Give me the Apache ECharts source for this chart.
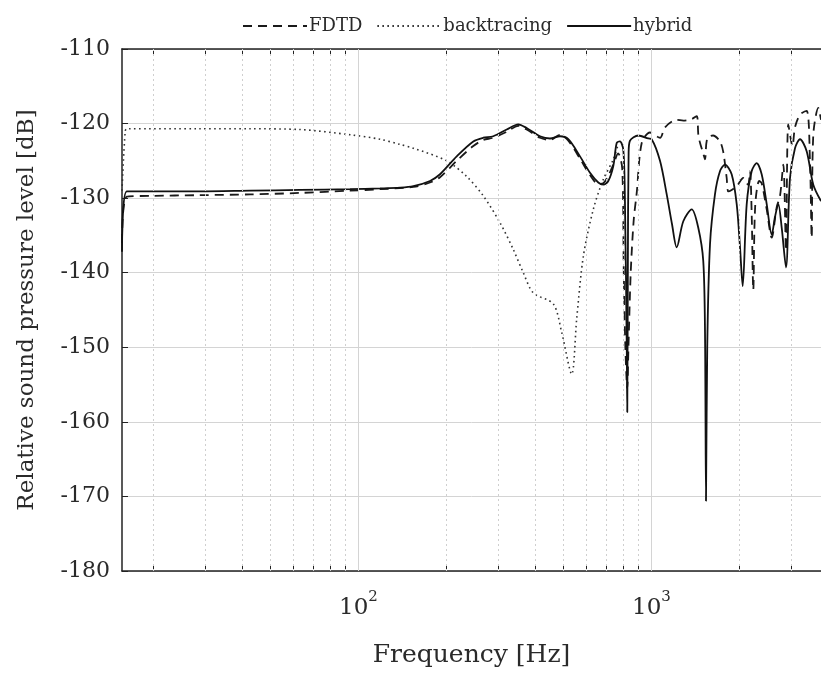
<!DOCTYPE html>
<html>
<head>
<meta charset="utf-8">
<script src="https://cdn.jsdelivr.net/npm/echarts@6/dist/echarts.min.js"></script>
<style>html,body{margin:0;padding:0;background:#fff}#c{width:821px;height:673px}</style>
</head>
<body>
<div id="c"></div>
<script>
// ---- data (frequency in Hz, level in dB) ----
const hybridFreq = [15.6, 16.2, 19.4, 28.8, 42.7, 63.2, 93.6, 118.5, 138.7, 154, 175.5, 189.9, 216.5, 246.7, 266.9, 288.6, 320.7, 351.3, 375.2, 416.7, 450.7, 487.6, 520.5, 570.6, 617.2, 658.7, 685.1, 712.5, 741.3, 761.3, 781, 801.8, 812, 824, 827.3, 831, 836, 845.3, 902.3, 975.9, 1002, 1070, 1128, 1176, 1220, 1285, 1373, 1446, 1503, 1524, 1536, 1551, 1585, 1648, 1714, 1783, 1879, 1955, 2006, 2049, 2115, 2199, 2287, 2379, 2475, 2574, 2642, 2711, 2785, 2880, 2972, 3091, 3215, 3388, 3569, 3792];
const hybridDb = [-137.2, -129.1, -129.1, -129.1, -129.0, -128.9, -128.8, -128.7, -128.6, -128.4, -127.7, -126.8, -124.4, -122.4, -121.9, -121.7, -120.8, -120.1, -120.6, -121.7, -122.0, -121.7, -122.1, -124.4, -126.6, -127.9, -128.2, -127.7, -125.7, -122.6, -122.4, -123.5, -130, -150, -158.7, -140, -124, -122.3, -121.6, -122.0, -122.1, -125.0, -129.5, -133.5, -136.6, -133.1, -131.5, -134.0, -138.4, -148, -170.6, -150, -136.2, -129.5, -126.4, -125.5, -126.8, -130.8, -136.5, -141.8, -130.8, -126.4, -125.3, -126.8, -130.8, -134.9, -132.5, -130.8, -134.0, -139.3, -127.3, -123.3, -122.1, -123.7, -128.2, -130.4];

const fdtdFreq = [15.6, 16.2, 19.4, 28.8, 42.7, 63.2, 93.6, 118.5, 154, 175.5, 189.9, 216.5, 246.7, 266.9, 288.6, 320.7, 351.3, 375.2, 416.7, 450.7, 487.6, 520.5, 570.6, 617.2, 658.7, 685.1, 712.5, 741.3, 770, 795, 805, 815, 827, 835, 850, 870, 891, 926.7, 989, 1070, 1113, 1220, 1285, 1373, 1428, 1446, 1466, 1503, 1524, 1551, 1623, 1714, 1759, 1807, 1830, 1879, 1955, 2059, 2137, 2170, 2199, 2227, 2261, 2333, 2379, 2475, 2574, 2677, 2748, 2820, 2880, 2933, 3031, 3091, 3215, 3388, 3477, 3524, 3569, 3712, 3792];
const fdtdDb = [-136.0, -129.8, -129.7, -129.6, -129.5, -129.3, -129.0, -128.8, -128.5, -127.9, -127.2, -125.0, -123.0, -122.2, -121.9, -121.1, -120.3, -120.8, -121.9, -122.2, -121.5, -122.3, -124.7, -126.9, -128.1, -128.0, -127.0, -125.5, -124.0, -126.0, -140.0, -150.0, -155.5, -150.0, -140.0, -133.0, -129.3, -122.6, -121.2, -121.9, -120.5, -119.5, -119.6, -119.4, -119.0, -121.5, -122.6, -124.0, -124.8, -122.0, -121.6, -122.4, -123.8, -127.3, -129.1, -128.9, -128.4, -127.3, -128.2, -126.4, -132.0, -142.3, -131.0, -127.7, -128.0, -131.5, -135.3, -131.2, -129.7, -125.5, -137.0, -120.1, -123.0, -120.5, -118.8, -118.3, -125.0, -135.3, -121.5, -117.9, -119.5];

const backFreq = [15.6, 16.0, 16.2, 28.8, 42.7, 63.2, 93.6, 118.5, 138.7, 154, 200.2, 234.2, 266.9, 304.3, 337.9, 365.4, 395.2, 462.7, 494.1, 534.5, 555.9, 585.7, 633.5, 685.1, 741.3, 770];
const backDb = [-129.0, -121.0, -120.7, -120.7, -120.7, -120.8, -121.5, -122.1, -122.8, -123.3, -125.0, -127.1, -129.7, -133.3, -136.9, -140.0, -142.7, -144.2, -148.0, -153.6, -146.2, -137.8, -131.5, -127.5, -124.8, -122.8];

const seriesNames = ['FDTD', 'backtracing', 'hybrid'];
const xMin = 15.6, xMax = 3792;
const yMin = -180, yMax = -110, yStep = 10;
const xTickValues = [20, 30, 40, 50, 60, 70, 80, 90, 100, 200, 300, 400, 500, 600, 700, 800, 900, 1000, 2000, 3000];
const xLabelValues = [100, 1000];
const xMinorGrid = [20, 30, 40, 50, 60, 70, 80, 90, 200, 300, 400, 500, 600, 700, 800, 900, 2000, 3000];
const xMajorGrid = [100, 1000];

const zip = (a, b) => a.map((v, i) => [v, b[i]]);
const FONT = 'DejaVu Serif';
const TXT = '#2a2a2a';

const chart = echarts.init(document.getElementById('c'), null, {renderer: 'canvas'});
const axisCommon = {
  type: 'log', logBase: 10, min: xMin, max: xMax,
  axisLine: {show: true, onZero: false, lineStyle: {color: '#222', width: 1.5}},
  axisTick: {show: true, inside: true, length: 6, customValues: xTickValues, lineStyle: {color: '#222', width: 1}},
  splitLine: {show: false},
  minorTick: {show: false}
};
chart.setOption({
  animation: false,
  backgroundColor: '#fff',
  grid: {left: 122, top: 49, right: 0, bottom: 101, containLabel: false},
  legend: {
    top: 12, left: 237, itemWidth: 64, itemHeight: 20, itemGap: 14,
    itemStyle: {opacity: 0},
    textStyle: {fontFamily: FONT, fontSize: 18, color: TXT, padding: [0, 0, 0, -3]},
    data: seriesNames
  },
  xAxis: [
    Object.assign({}, axisCommon, {
      position: 'bottom',
      axisLabel: {
        show: true, customValues: xLabelValues, margin: 19,
        formatter: v => {
          const e = Math.round(Math.log10(v));
          return (Math.abs(Math.log10(v) - e) < 1e-6 && (v === 100 || v === 1000)) ? '{b|10}{s|' + e + '}' : '';
        },
        rich: {
          b: {fontFamily: FONT, fontSize: 23, color: TXT, lineHeight: 30, verticalAlign: 'bottom'},
          s: {fontFamily: FONT, fontSize: 15, color: TXT, lineHeight: 16, verticalAlign: 'top'}
        }
      },
      name: 'Frequency [Hz]', nameLocation: 'middle', nameGap: 72,
      nameTextStyle: {fontFamily: FONT, fontSize: 25, color: TXT}
    }),
    Object.assign({}, axisCommon, {
      position: 'top',
      axisLabel: {show: false}
    })
  ],
  yAxis: {
    type: 'value', min: yMin, max: yMax, interval: yStep,
    axisLine: {show: true, onZero: false, lineStyle: {color: '#222', width: 1.5}},
    axisTick: {show: true, inside: true, length: 6, lineStyle: {color: '#222'}},
    axisLabel: {fontFamily: FONT, fontSize: 22, color: TXT, margin: 12},
    splitLine: {show: true, lineStyle: {color: '#d4d4d4', width: 1}},
    name: 'Relative sound pressure level [dB]', nameLocation: 'middle', nameRotate: 90, nameGap: 83,
    nameTextStyle: {fontFamily: FONT, fontSize: 23, color: TXT}
  },
  series: [
    {
      name: 'grid', type: 'line', data: [], z: 0, silent: true,
      markLine: {
        silent: true, symbol: ['none', 'none'], label: {show: false}, animation: false,
        data: xMinorGrid.map(v => ({xAxis: v, lineStyle: {color: '#cfcfcf', type: [2, 3], width: 1}}))
          .concat(xMajorGrid.map(v => ({xAxis: v, lineStyle: {color: '#d4d4d4', type: 'solid', width: 1}})))
      }
    },
    {
      name: seriesNames[0], type: 'line', data: zip(fdtdFreq, fdtdDb), showSymbol: false, symbol: 'none', z: 3,
      smooth: 0.3,
      lineStyle: {color: '#1a1a1a', width: 1.8, type: [9, 6]}, itemStyle: {color: '#1a1a1a'}
    },
    {
      name: seriesNames[1], type: 'line', data: zip(backFreq, backDb), showSymbol: false, symbol: 'none', z: 2,
      smooth: 0.3,
      lineStyle: {color: '#333', width: 1.6, type: [1.6, 3.4]}, itemStyle: {color: '#333'}
    },
    {
      name: seriesNames[2], type: 'line', data: zip(hybridFreq, hybridDb), showSymbol: false, symbol: 'none', z: 4,
      smooth: 0.3,
      lineStyle: {color: '#111', width: 1.8, type: 'solid'}, itemStyle: {color: '#111'}
    }
  ]
});
</script>
</body>
</html>
